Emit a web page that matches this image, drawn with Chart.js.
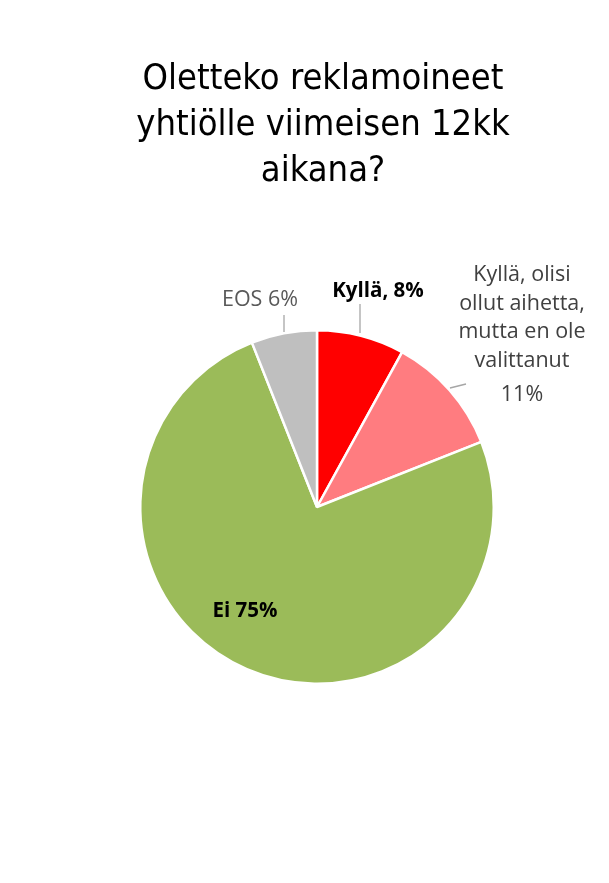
<!DOCTYPE html>
<html>
<head>
<meta charset="utf-8">
<script src="https://cdn.jsdelivr.net/npm/chart.js@4.4.1/dist/chart.umd.min.js"></script>
<style>
  html, body { margin: 0; padding: 0; background: #fff; }
  #wrap { width: 609px; height: 883px; position: relative; }
</style>
</head>
<body>
<div id="wrap"><canvas id="pie" width="609" height="883"></canvas></div>
<script>
// Data
const titleLines = ['Oletteko reklamoineet', 'yhtiölle viimeisen 12kk', 'aikana?'];
const categories = ['Kyllä', 'Kyllä, olisi ollut aihetta, mutta en ole valittanut', 'Ei', 'EOS'];
const values = [8, 11, 75, 6];
const sliceColors = ['#FF0000', '#FF7C80', '#9BBB59', '#BFBFBF'];

// label text per slice (lines), shown next to / in the slices
const labelLines = [
    ['Kyllä, 8%'],
    ['Kyllä, olisi', 'ollut aihetta,', 'mutta en ole', 'valittanut', '11%'],
    ['Ei 75%'],
    ['EOS 6%']
];

// where each label sits, and leader lines (anchor on arc -> end)
const labelSpots = [
    { x: 378, y: 291, bold: true, color: '#000', leader: [[360, 333], [360, 304]] },
    { x: 522, y: 275, bold: false, color: '#404040', step: 28.5, leader: [[450, 388], [466, 384]] },
    { x: 245, y: 611, bold: true, color: '#000', leader: null },
    { x: 260, y: 300, bold: false, color: '#595959', leader: [[284, 332], [284, 315]] }
];

const labelPlugin = {
    id: 'labels',
    afterDraw(chart) {
        const ctx = chart.ctx;
        ctx.save();
        // title
        ctx.fillStyle = '#000';
        ctx.font = '36px "DejaVu Sans Condensed"';
        ctx.textAlign = 'center';
        ctx.textBaseline = 'middle';
        titleLines.forEach((t, i) => ctx.fillText(t, 323, 80 + i * 46));

        // data labels
        labelSpots.forEach((s, i) => {
            if (s.leader) {
                ctx.strokeStyle = '#A6A6A6';
                ctx.lineWidth = 1.3;
                ctx.beginPath();
                ctx.moveTo(s.leader[0][0], s.leader[0][1]);
                ctx.lineTo(s.leader[1][0], s.leader[1][1]);
                ctx.stroke();
            }
            ctx.fillStyle = s.color;
            ctx.font = (s.bold ? 'bold 20.5px' : '21.5px') + ' "Open Sans"';
            labelLines[i].forEach((l, j) => {
                ctx.fillText(l, s.x, s.y + j * (s.step || 0) + (j === 4 ? 6 : 0));
            });
        });
        ctx.restore();
    }
};

new Chart(document.getElementById('pie'), {
    type: 'pie',
    data: {
        labels: categories,
        datasets: [{
            data: values,
            backgroundColor: sliceColors,
            borderColor: '#FFFFFF',
            borderWidth: 2.5
        }]
    },
    options: {
        responsive: false,
        animation: false,
        layout: { padding: { left: 139, right: 114, top: 329, bottom: 198 } },
        plugins: {
            legend: { display: false },
            tooltip: { enabled: false }
        }
    },
    plugins: [labelPlugin]
});
</script>
</body>
</html>
